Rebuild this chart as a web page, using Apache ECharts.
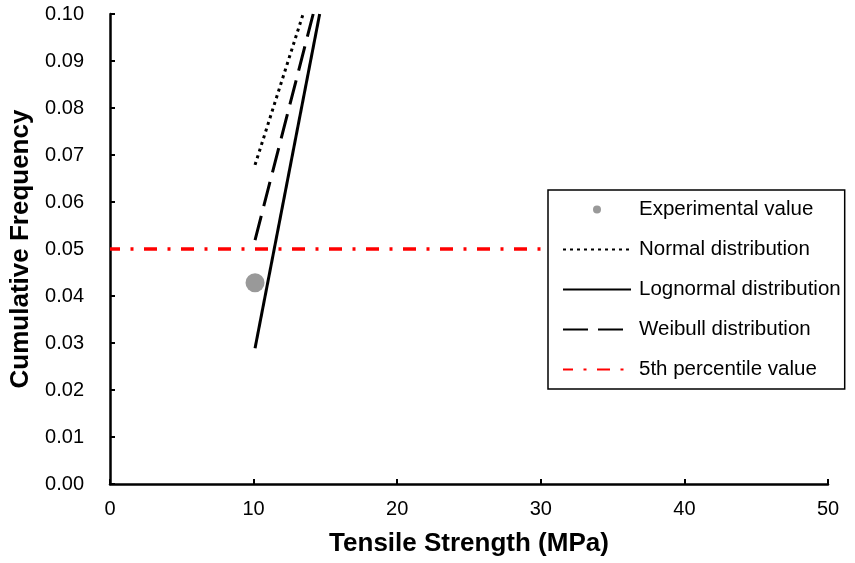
<!DOCTYPE html>
<html>
<head>
<meta charset="utf-8">
<script src="https://cdn.jsdelivr.net/npm/echarts@6/dist/echarts.min.js"></script>
<style>
  html, body { margin: 0; padding: 0; background: #fff; }
  #chart { width: 855px; height: 563px; }
</style>
</head>
<body>
<div id="chart"></div>
<script>
const experimental = [[10.1, 0.0428]]
const normalLine = [[10.1, 0.0679], [13.45, 0.10]]
const lognormalLine = [[10.1, 0.0289], [14.6, 0.10]]
const weibullLine = [[10.1, 0.0519], [14.15, 0.10]]
const percentileLine = [[0, 0.05], [50, 0.05]]

const font = 'Liberation Sans, Arial, sans-serif'
const hideSymbol = { opacity: 0 }

const myChart = echarts.init(document.getElementById('chart'))
myChart.setOption({
  animation: false,
  textStyle: { fontFamily: font },
  grid: { left: 110, right: 27, top: 14, bottom: 79 },
  legend: {
    orient: 'vertical',
    left: 548,
    top: 190,
    z: 10,
    padding: [9, 4, 9, 14],
    itemGap: 19,
    itemWidth: 68,
    itemHeight: 8,
    backgroundColor: '#fff',
    borderColor: '#000',
    borderWidth: 1.5,
    borderRadius: 0,
    textStyle: { fontFamily: font, fontSize: 20.5, color: '#000', padding: [0, 0, 0, 3] },
    data: [
      { name: 'Experimental value', icon: 'circle', itemStyle: { color: '#808080' } },
      { name: 'Normal distribution', itemStyle: hideSymbol },
      { name: 'Lognormal distribution', itemStyle: hideSymbol },
      { name: 'Weibull distribution', itemStyle: hideSymbol },
      { name: '5th percentile value', itemStyle: hideSymbol }
    ]
  },
  xAxis: {
    type: 'value',
    min: 0,
    max: 50,
    interval: 10,
    name: 'Tensile Strength (MPa)',
    nameLocation: 'middle',
    nameGap: 47,
    nameTextStyle: { fontFamily: font, fontSize: 26, fontWeight: 'bold', color: '#000' },
    splitLine: { show: false },
    axisLine: { lineStyle: { color: '#000', width: 2.5 } },
    axisTick: { inside: true, length: 5, lineStyle: { color: '#000', width: 2 } },
    axisLabel: { fontFamily: font, fontSize: 20, color: '#000', margin: 15 }
  },
  yAxis: {
    type: 'value',
    min: 0,
    max: 0.1,
    interval: 0.01,
    name: 'Cumulative Frequency',
    nameLocation: 'middle',
    nameGap: 70,
    nameTextStyle: { fontFamily: font, fontSize: 26, fontWeight: 'bold', color: '#000' },
    splitLine: { show: false },
    axisLine: { show: true, lineStyle: { color: '#000', width: 2.5 } },
    axisTick: { show: true, inside: true, length: 5, lineStyle: { color: '#000', width: 2 } },
    axisLabel: {
      fontFamily: font, fontSize: 20, color: '#000', margin: 26,
      formatter: v => v.toFixed(2)
    }
  },
  series: [
    {
      name: 'Experimental value',
      type: 'scatter',
      data: experimental,
      symbolSize: 19,
      itemStyle: { color: '#808080' },
      z: 3
    },
    {
      name: 'Normal distribution',
      type: 'line',
      data: normalLine,
      symbol: 'none',
      lineStyle: { color: '#000', width: 3, type: [3, 4] },
      itemStyle: { color: '#000' }
    },
    {
      name: 'Lognormal distribution',
      type: 'line',
      data: lognormalLine,
      symbol: 'none',
      lineStyle: { color: '#000', width: 3, type: 'solid' },
      itemStyle: { color: '#000' }
    },
    {
      name: 'Weibull distribution',
      type: 'line',
      data: weibullLine,
      symbol: 'none',
      lineStyle: { color: '#000', width: 3, type: [25, 10] },
      itemStyle: { color: '#000' }
    },
    {
      name: '5th percentile value',
      type: 'line',
      data: percentileLine,
      symbol: 'none',
      lineStyle: { color: '#ff0000', width: 3.5, type: [13, 10.5, 3, 10.5], dashOffset: 3 },
      itemStyle: { color: '#ff0000' },
      z: 1
    }
  ]
})
</script>
</body>
</html>
